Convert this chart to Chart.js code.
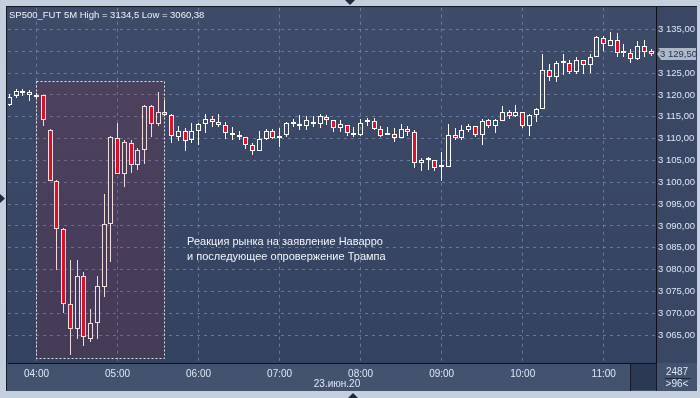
<!DOCTYPE html>
<html>
<head>
<meta charset="utf-8">
<script src="https://cdn.jsdelivr.net/npm/chart.js@4.4.1/dist/chart.umd.min.js"></script>
<style>
  html, body { margin: 0; padding: 0; background: #c4d0de; overflow: hidden; }
  #wrap { width: 700px; height: 398px; position: relative; }
</style>
</head>
<body>
<div id="wrap"><canvas id="chart" width="700" height="398"></canvas></div>
<script>
// 5-minute candles, 03:40 .. 11:35, 23 June 2020
const opens = [
  3117.8, 3119.8, 3120.5, 3120.8, 3120.0, 3119.9, 3112.0, 3100.4, 3089.2, 3072.2, 3066.5, 3078.5,
  3064.2, 3067.7, 3075.9, 3090.5, 3110.2, 3101.8, 3109.1, 3104.0, 3107.3, 3117.4, 3113.3, 3116.2,
  3115.5, 3110.4, 3111.7, 3109.8, 3111.7, 3113.3, 3114.6, 3113.9, 3113.2, 3111.4, 3110.9, 3110.4,
  3108.6, 3107.1, 3110.0, 3111.7, 3110.2, 3110.9, 3113.3, 3113.0, 3113.0, 3113.8, 3113.4, 3114.9,
  3114.3, 3112.4, 3113.2, 3111.4, 3110.9, 3113.7, 3114.0, 3112.3, 3110.9, 3111.1, 3110.1, 3112.3,
  3111.5, 3104.5, 3105.4, 3105.0, 3103.5, 3103.6, 3110.9, 3110.1, 3111.9, 3113.0, 3110.9, 3114.2,
  3112.9, 3114.0, 3116.2, 3115.2, 3116.2, 3112.9, 3115.5, 3116.9, 3125.8, 3124.1, 3127.3, 3127.4,
  3125.2, 3128.1, 3126.9, 3128.8, 3133.1, 3131.3, 3132.6, 3129.7, 3129.7, 3128.3, 3131.3, 3130.0
];
const highs = [
  3120.2, 3121.4, 3121.4, 3121.2, 3120.4, 3120.0, 3112.1, 3100.5, 3089.5, 3082.3, 3082.3, 3079.5,
  3070.9, 3078.5, 3097.4, 3110.5, 3113.6, 3109.6, 3109.8, 3107.8, 3117.6, 3117.6, 3120.7, 3118.9,
  3115.7, 3112.8, 3112.5, 3113.6, 3113.5, 3115.7, 3115.1, 3115.7, 3113.8, 3112.6, 3111.7, 3110.4,
  3109.1, 3111.7, 3112.3, 3112.1, 3112.4, 3113.9, 3114.5, 3115.5, 3115.1, 3115.1, 3115.7, 3115.5,
  3114.3, 3114.2, 3113.2, 3112.6, 3114.6, 3114.8, 3114.8, 3112.8, 3112.6, 3112.5, 3113.4, 3112.8,
  3111.9, 3105.6, 3105.8, 3105.0, 3106.9, 3113.3, 3112.5, 3113.2, 3113.4, 3113.0, 3114.6, 3114.6,
  3114.6, 3117.4, 3116.6, 3117.8, 3116.2, 3115.7, 3117.1, 3129.3, 3127.0, 3127.9, 3129.3, 3128.1,
  3128.8, 3128.1, 3129.4, 3133.6, 3133.6, 3134.5, 3134.2, 3131.7, 3130.6, 3132.3, 3132.5, 3130.6
];
const lows = [
  3117.4, 3119.4, 3119.7, 3118.6, 3119.3, 3113.0, 3100.2, 3079.9, 3070.1, 3060.4, 3064.2, 3062.5,
  3063.4, 3064.2, 3073.7, 3081.8, 3101.8, 3098.9, 3102.1, 3102.9, 3104.3, 3110.4, 3113.0, 3115.1,
  3109.0, 3109.4, 3107.1, 3109.0, 3108.5, 3111.3, 3112.6, 3112.6, 3109.9, 3109.8, 3109.8, 3107.7,
  3106.2, 3107.1, 3109.8, 3109.9, 3108.2, 3110.4, 3112.6, 3111.9, 3111.9, 3112.6, 3112.5, 3113.2,
  3111.6, 3111.5, 3110.7, 3110.4, 3110.7, 3113.0, 3112.0, 3110.4, 3110.9, 3109.2, 3110.1, 3110.7,
  3103.3, 3102.7, 3102.9, 3102.7, 3100.4, 3103.5, 3109.8, 3109.8, 3111.5, 3110.4, 3108.5, 3112.5,
  3111.3, 3114.0, 3114.6, 3114.9, 3112.5, 3110.7, 3113.8, 3116.9, 3123.2, 3122.9, 3124.5, 3124.9,
  3124.7, 3124.9, 3125.0, 3128.7, 3130.0, 3131.3, 3128.7, 3128.7, 3127.3, 3128.1, 3128.8, 3129.0
];
const closes = [
  3119.6, 3121.0, 3120.5, 3120.1, 3119.6, 3114.3, 3100.4, 3089.2, 3072.2, 3066.5, 3078.5, 3064.5,
  3067.7, 3076.2, 3090.5, 3110.4, 3101.8, 3109.2, 3104.0, 3107.3, 3117.4, 3113.3, 3116.2, 3115.5,
  3110.6, 3111.7, 3109.5, 3111.8, 3113.3, 3114.6, 3113.8, 3113.1, 3111.3, 3110.9, 3110.4, 3108.6,
  3107.1, 3110.0, 3111.7, 3110.1, 3110.7, 3113.6, 3113.5, 3113.3, 3114.2, 3113.3, 3115.1, 3114.3,
  3112.4, 3113.3, 3111.3, 3110.9, 3113.6, 3114.2, 3112.3, 3110.7, 3110.9, 3110.2, 3112.3, 3111.5,
  3104.5, 3105.2, 3105.0, 3103.3, 3103.5, 3110.9, 3110.1, 3111.9, 3113.0, 3110.9, 3114.0, 3112.9,
  3114.2, 3116.2, 3115.2, 3116.2, 3112.9, 3115.5, 3116.8, 3125.8, 3124.1, 3127.3, 3127.3, 3125.2,
  3128.1, 3126.9, 3128.8, 3133.4, 3131.6, 3132.6, 3129.7, 3129.7, 3128.3, 3131.3, 3129.8, 3129.5
];

const hourTicks = [4, 16, 28, 40, 52, 64, 76, 88];
const hourLabels = ['04:00', '05:00', '06:00', '07:00', '08:00', '09:00', '10:00', '11:00'];
const dateLabel = '23.июн.20';
const dateLabelAt = 48.5;
const priceTicks = [3065, 3070, 3075, 3080, 3085, 3090, 3095, 3100, 3105, 3110, 3115, 3120, 3125, 3130, 3135];
const titleText = 'SP500_FUT 5M High = 3134,5 Low = 3060,38';
const noteLines = ['Реакция рынка на заявление Наварро', 'и последующее опровержение Трампа'];
const zoneBars = [4, 23];
const zonePrices = [3059.8, 3123.3];
const notePos = [26.3, 3086.3];
const barCount = '2487';
const shownCount = '>96<';

const RED = '#e3102c';
const WHITE = '#ffffff';
const FONT = "'Liberation Sans', Arial, sans-serif";
const idx = opens.map((_, i) => i);

function fmtPrice(v) {
  const s = v.toFixed(2).replace('.', ',');
  return s.slice(0, s.length - 6) + ' ' + s.slice(-6);
}

const framePlugin = {
  id: 'frame',
  beforeDraw(chart) {
    const { ctx, chartArea: a } = chart;
    ctx.save();
    ctx.fillStyle = '#c4d0de';
    ctx.fillRect(0, 0, chart.width, chart.height);
    ctx.fillStyle = '#3a4866';
    ctx.fillRect(6, 6, 691, 385);
    const g = ctx.createLinearGradient(0, a.top, 0, a.bottom);
    g.addColorStop(0, '#3e4c6a');
    g.addColorStop(1, '#334260');
    ctx.fillStyle = g;
    ctx.fillRect(7, a.top, a.right - 7, a.bottom - a.top);
    ctx.fillStyle = '#394765';
    ctx.fillRect(a.right, a.top, 697 - a.right, a.bottom - a.top);
    ctx.fillStyle = '#43526f';
    ctx.fillRect(7, a.bottom, 690, 391 - a.bottom);
    ctx.fillStyle = '#2b3853';
    ctx.fillRect(631, a.bottom + 1, a.right - 631, 391 - a.bottom - 2);
    ctx.fillStyle = '#141a28';
    ctx.fillRect(6, 6, 1, 385);
    ctx.fillRect(6, 6, 691, 1);
    ctx.fillRect(a.right, 6, 1, 385);
    ctx.fillRect(630, a.bottom, 1, 391 - a.bottom);
    ctx.fillStyle = '#1f2a3f';
    ctx.beginPath(); ctx.moveTo(345, 0); ctx.lineTo(355, 0); ctx.lineTo(350, 5); ctx.fill();
    ctx.beginPath(); ctx.moveTo(348, 398); ctx.lineTo(358, 398); ctx.lineTo(353, 393); ctx.fill();
    ctx.beginPath(); ctx.moveTo(0, 194); ctx.lineTo(0, 203); ctx.lineTo(5, 198.5); ctx.fill();
    ctx.restore();
  },
  beforeDatasetsDraw(chart) {
    // snap candles to whole pixels so 1px wicks stay crisp
    chart.data.datasets.forEach((ds, d) => {
      chart.getDatasetMeta(d).data.forEach(el => {
        el.x = Math.floor(el.x) + 0.5;
        el.y = Math.round(el.y);
        el.base = Math.round(el.base);
      });
    });
  },
  afterDatasetsDraw(chart) {
    const { ctx, scales: { x, y } } = chart;
    const x0 = Math.floor(x.getPixelForValue(zoneBars[0])) + 0.5;
    const x1 = Math.floor(x.getPixelForValue(zoneBars[1])) + 0.5;
    const y0 = Math.round(y.getPixelForValue(zonePrices[1])) + 0.5;
    const y1 = Math.round(y.getPixelForValue(zonePrices[0])) + 0.5;
    ctx.save();
    ctx.fillStyle = 'rgba(170, 20, 40, 0.15)';
    ctx.fillRect(x0, y0, x1 - x0, y1 - y0);
    ctx.strokeStyle = 'rgba(255,255,255,0.85)';
    ctx.lineWidth = 1;
    ctx.setLineDash([2, 2]);
    ctx.strokeRect(x0, y0, x1 - x0, y1 - y0);
    ctx.setLineDash([]);

    ctx.fillStyle = '#f2f5fb';
    ctx.font = '11px ' + FONT;
    ctx.textBaseline = 'middle';
    ctx.textAlign = 'left';
    const nx = x.getPixelForValue(notePos[0]);
    const ny = y.getPixelForValue(notePos[1]);
    ctx.fillText(noteLines[0], nx, ny);
    ctx.fillText(noteLines[1], nx, ny + 15);
    ctx.restore();
  },
  afterDraw(chart) {
    const { ctx, scales: { x, y }, chartArea: a } = chart;
    ctx.save();
    ctx.font = '9.5px ' + FONT;
    ctx.textBaseline = 'middle';
    ctx.fillStyle = '#eef2fa';
    ctx.textAlign = 'left';
    ctx.fillText(titleText, 9, 15);

    ctx.font = '10px ' + FONT;
    ctx.fillStyle = '#dfe7f7';
    ctx.textAlign = 'center';
    ctx.fillText(dateLabel, x.getPixelForValue(dateLabelAt), 384);

    ctx.fillText(barCount, 677, 372);
    ctx.fillText(shownCount, 677, 384);
    ctx.fillStyle = '#1c2538';
    ctx.fillRect(665, 378, 26, 1);

    const last = closes[closes.length - 1];
    const py = Math.round(y.getPixelForValue(last));
    const bx = a.right + 5;
    ctx.fillStyle = '#aeb8c7';
    ctx.beginPath();
    ctx.moveTo(a.right + 1, py);
    ctx.lineTo(bx, py - 6);
    ctx.lineTo(696, py - 6);
    ctx.lineTo(696, py + 6);
    ctx.lineTo(bx, py + 6);
    ctx.closePath();
    ctx.fill();
    ctx.fillStyle = '#23365a';
    ctx.font = '9.5px ' + FONT;
    ctx.textAlign = 'left';
    ctx.fillText(fmtPrice(last), bx - 1, py + 0.5);
    ctx.restore();
  }
};

new Chart(document.getElementById('chart'), {
  type: 'bar',
  data: {
    datasets: [
      {
        label: 'upper wick',
        data: idx.map(i => ({ x: i, y: [Math.max(opens[i], closes[i]), highs[i]] })),
        backgroundColor: WHITE,
        borderWidth: 0,
        barThickness: 1,
        grouped: false,
        inflateAmount: 0
      },
      {
        label: 'lower wick',
        data: idx.map(i => ({ x: i, y: [lows[i], Math.min(opens[i], closes[i])] })),
        backgroundColor: WHITE,
        borderWidth: 0,
        barThickness: 1,
        grouped: false,
        inflateAmount: 0
      },
      {
        label: 'body',
        data: idx.map(i => ({ x: i, y: [opens[i], closes[i]] })),
        backgroundColor: idx.map(i => closes[i] < opens[i] ? RED : (closes[i] > opens[i] ? 'rgba(0,0,0,0)' : WHITE)),
        borderColor: WHITE,
        borderWidth: 1,
        borderSkipped: false,
        barThickness: 5,
        minBarLength: 2,
        grouped: false,
        inflateAmount: 0
      }
    ]
  },
  options: {
    responsive: false,
    devicePixelRatio: 1,
    animation: false,
    layout: { padding: { left: 8, top: 7, right: 3, bottom: 7 } },
    plugins: {
      legend: { display: false },
      tooltip: { enabled: false },
      title: { display: false }
    },
    scales: {
      x: {
        type: 'linear',
        position: 'bottom',
        offset: false,
        min: -0.22,
        max: 95.74,
        afterBuildTicks: axis => { axis.ticks = hourTicks.map(v => ({ value: v })); },
        afterFit: axis => { axis.height = 28; },
        ticks: {
          autoSkip: false,
          maxRotation: 0,
          padding: 5,
          color: '#dfe7f7',
          font: { family: FONT, size: 10 },
          callback: (v, i) => hourLabels[i]
        },
        grid: { offset: false, color: 'rgba(125,145,180,0.7)', lineWidth: 1, drawTicks: false },
        border: { display: true, color: '#0c1019', width: 1, dash: [3, 4] }
      },
      y: {
        type: 'linear',
        position: 'right',
        min: 3058.6,
        max: 3140.0,
        afterBuildTicks: axis => { axis.ticks = priceTicks.map(v => ({ value: v })); },
        afterFit: axis => { axis.width = 41; },
        ticks: {
          padding: 2,
          color: '#dfe7f7',
          font: { family: FONT, size: 9.5 },
          callback: v => fmtPrice(v)
        },
        grid: { color: 'rgba(125,145,180,0.7)', lineWidth: 1, drawTicks: false },
        border: { display: true, color: '#0c1019', width: 1, dash: [3, 4] }
      }
    }
  },
  plugins: [framePlugin]
});
</script>
</body>
</html>
